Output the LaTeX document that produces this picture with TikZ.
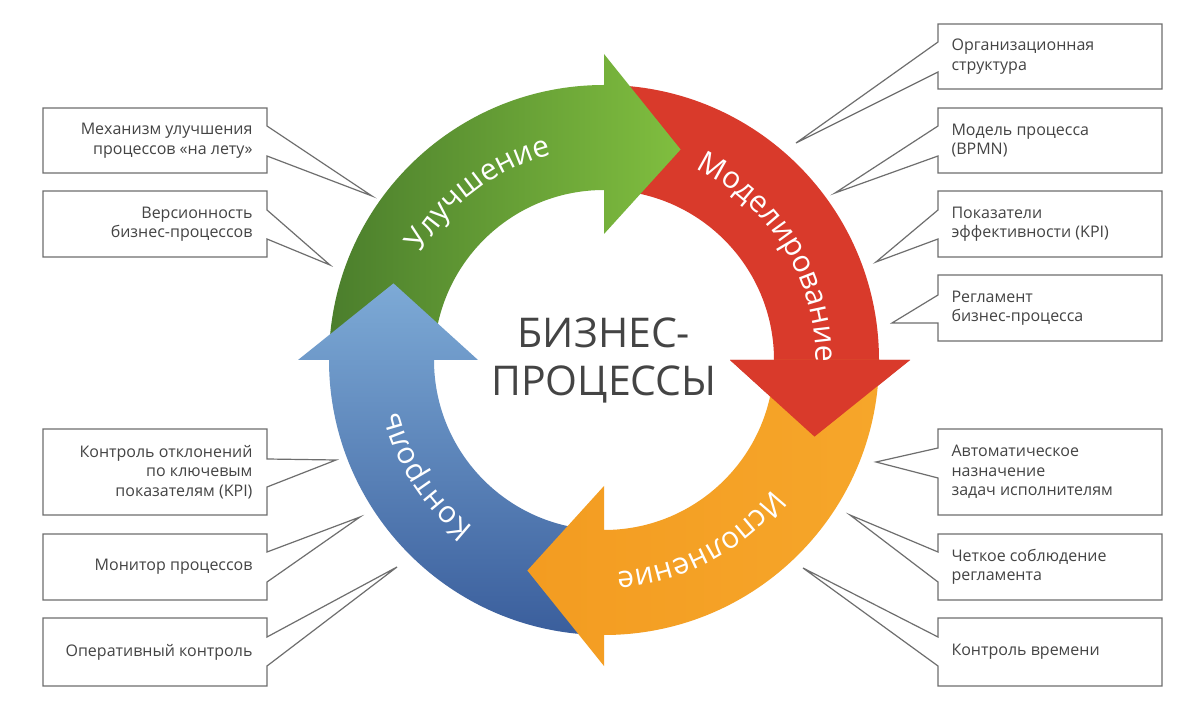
\documentclass[tikz,border=0pt]{standalone}
\usepackage{fontspec}
\setmainfont{Open Sans}
\usetikzlibrary{decorations.text}
\definecolor{gD}{HTML}{4B7E2C}\definecolor{gL}{HTML}{80BE3F}
\definecolor{rC}{HTML}{D93A2B}
\definecolor{oC}{HTML}{F39C21}\definecolor{oL}{HTML}{F6A62A}
\definecolor{bL}{HTML}{7DAAD6}\definecolor{bD}{HTML}{3A5E9C}
\definecolor{tx}{HTML}{444444}\definecolor{ln}{HTML}{6E6E6E}
\tikzset{
 callout/.style={draw=ln,line width=1.2pt,fill=white,line join=miter},
 rtext/.style={font=\fontsize{16}{19.5}\selectfont,text=tx,align=left,anchor=west},
 ltext/.style={font=\fontsize{16}{19.5}\selectfont,text=tx,align=right,anchor=east},
}
\newcommand{\arrowpath}[2]{% start angle, base angle
 (#1:275) arc[start angle=#1,end angle=#2,radius=275] -- (#2:306) -- ({#2-20}:224) -- (#2:126) -- (#2:170) arc[start angle=#2,end angle=#1,radius=170] -- cycle}
\newcommand{\arctext}[2]{%
 \path[decorate,decoration={text along path,text align=center,text={|\fontsize{30}{30}\selectfont\color{white}|#2}}] ({#1+40}:212) arc[start angle={#1+40},end angle={#1-40},radius=212];}
\begin{document}
\begin{tikzpicture}[x=1pt,y=-1pt]
\useasboundingbox (0,0) rectangle (1200,708);
\fill[white] (0,0) rectangle (1200,708);
\begin{scope}[shift={(604,360)},yscale=-1]
 \fill[rC] \arrowpath{90}{0};
 \shade[left color=gD,right color=gL] \arrowpath{180}{90};
 \shade[top color=bL,bottom color=bD] \arrowpath{-90}{-180};
 \shade[left color=oC,right color=oL] \arrowpath{0}{-90};
 \fill[rC] (0:306) -- (-20:224) -- (0:126) -- cycle;
 \fill[rC] (0:275) -- (0:170) arc[start angle=0,end angle=-3,radius=170] -- (-3:275) -- cycle;
 \arctext{127}{Улучшение}
 \arctext{32}{Моделирование}
 \arctext{-62}{Исполнение}
 \arctext{-147}{Контроль}
\end{scope}
\node[font=\fontsize{41}{48}\selectfont,text=tx,align=center] (center) at (604,360) {БИЗНЕС-\\ПРОЦЕССЫ};
% right callouts
\foreach \t/\b/\pa/\pb/\tx/\ty/\nm/\txt in {
 24/89/42/72/796/143/r1/{Организационная\\структура},
 108/173/126/156/835/193/r2/{Модель процесса\\(BPMN)},
 191/257/210/239/876/262/r3/{Показатели\\эффективности (KPI)},
 275/341/295/323/892/323/r4/{Регламент\\бизнес-процесса},
 429/515/448/478/876/462/r5/{Автоматическое\\назначение\\задач исполнителям},
 534/600/552/582/850/515/r6/{Четкое соблюдение\\регламента},
 618/686/637/666/803/568/r7/{Контроль времени}}{
 \draw[callout] (938,\t) -- (1162,\t) -- (1162,\b) -- (938,\b) -- (938,\pb) -- (\tx,\ty) -- (938,\pa) -- cycle;
 \node[rtext] (\nm) at (948,{(\t+\b)/2}) {\txt};
}
% left callouts
\foreach \t/\b/\pa/\pb/\tx/\ty/\nm/\txt in {
 108/173/126/156/372/196/l1/{Механизм улучшения\\процессов «на лету»},
 191/257/210/239/330/265/l2/{Версионность\\бизнес-процессов},
 429/515/459/487/336/460/l3/{Контроль отклонений\\по ключевым\\показателям (KPI)},
 534/600/552/582/360/517/l4/{Монитор процессов},
 618/686/637/666/397/567/l5/{Оперативный контроль}}{
 \draw[callout] (267,\t) -- (43,\t) -- (43,\b) -- (267,\b) -- (267,\pb) -- (\tx,\ty) -- (267,\pa) -- cycle;
 \node[ltext] (\nm) at (256,{(\t+\b)/2}) {\txt};
}
\end{tikzpicture}
\end{document}
